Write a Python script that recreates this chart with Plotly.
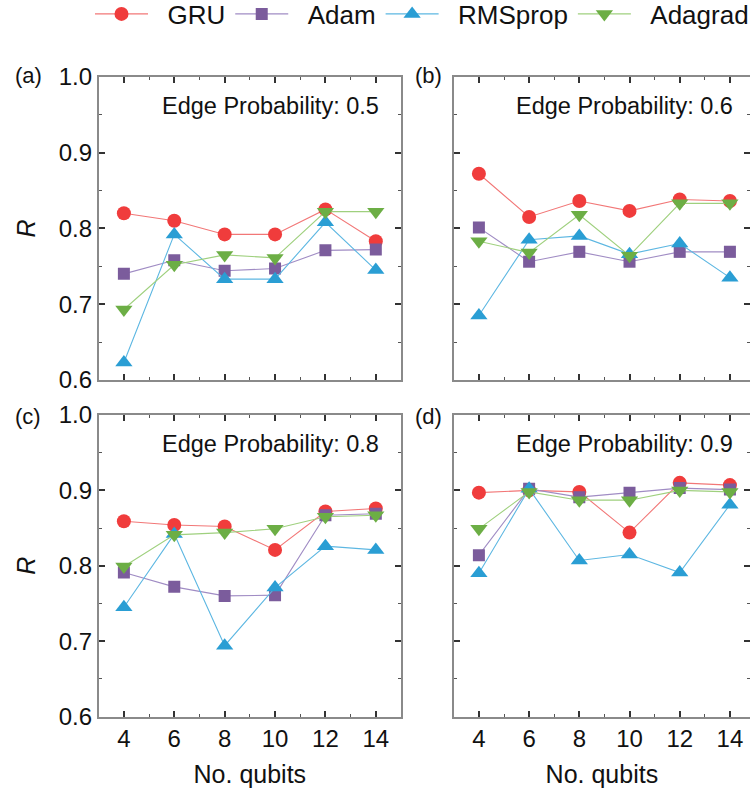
import plotly.graph_objects as go

qubits = [4, 6, 8, 10, 12, 14]
series_names = ["GRU", "Adam", "RMSprop", "Adagrad"]
edge_probs = ["0.5", "0.6", "0.8", "0.9"]
panel_labels = ["(a)", "(b)", "(c)", "(d)"]

# panel (a) edge probability 0.5
gru_a = [0.820, 0.810, 0.792, 0.792, 0.825, 0.783]
adam_a = [0.740, 0.758, 0.744, 0.747, 0.771, 0.772]
rms_a = [0.623, 0.792, 0.733, 0.733, 0.808, 0.745]
adagrad_a = [0.693, 0.752, 0.765, 0.761, 0.822, 0.822]
# panel (b) edge probability 0.6
gru_b = [0.872, 0.815, 0.836, 0.823, 0.838, 0.836]
adam_b = [0.801, 0.756, 0.769, 0.756, 0.769, 0.769]
rms_b = [0.685, 0.785, 0.790, 0.766, 0.780, 0.735]
adagrad_b = [0.783, 0.768, 0.818, 0.764, 0.833, 0.833]
# panel (c) edge probability 0.8
gru_c = [0.859, 0.854, 0.852, 0.821, 0.872, 0.876]
adam_c = [0.791, 0.772, 0.760, 0.761, 0.867, 0.869]
rms_c = [0.745, 0.842, 0.694, 0.771, 0.826, 0.821]
adagrad_c = [0.799, 0.841, 0.844, 0.849, 0.865, 0.867]
# panel (d) edge probability 0.9
gru_d = [0.897, 0.900, 0.898, 0.844, 0.910, 0.907]
adam_d = [0.814, 0.902, 0.891, 0.897, 0.903, 0.901]
rms_d = [0.790, 0.902, 0.807, 0.815, 0.791, 0.881]
adagrad_d = [0.849, 0.898, 0.887, 0.887, 0.900, 0.898]

panels = [
    [gru_a, adam_a, rms_a, adagrad_a],
    [gru_b, adam_b, rms_b, adagrad_b],
    [gru_c, adam_c, rms_c, adagrad_c],
    [gru_d, adam_d, rms_d, adagrad_d],
]

marker_colors = ["#F03C3C", "#7B5C9C", "#2A9ED4", "#6CAE45"]
line_colors = ["#F27777", "#A08CC4", "#5DB7E2", "#9FD07E"]
symbols = ["circle", "square", "triangle-up", "triangle-down"]
sizes = [14, 12, 15, 15]

W, H = 750, 790
xdoms = [[98.7 / W, 401.0 / W], [453.8 / W, 1.0]]
ydoms = [[1 - 380.0 / H, 1 - 76.7 / H], [1 - 716.5 / H, 1 - 415.0 / H]]
xranges = [[3, 15], [3, 14.8]]

fig = go.Figure()
FONT = "Liberation Sans, Arial, sans-serif"
NB = "\u00a0"

for p in range(4):
    r, c = divmod(p, 2)
    ax = "" if p == 0 else str(p + 1)
    for s in range(4):
        fig.add_trace(go.Scatter(
            x=qubits, y=panels[p][s], mode="lines+markers",
            name=NB * 2 + series_names[s], showlegend=(p == 0),
            line=dict(color=line_colors[s], width=1.1),
            marker=dict(color=marker_colors[s], symbol=symbols[s], size=sizes[s],
                        line=dict(width=0)),
            xaxis="x" + ax, yaxis="y" + ax,
        ))
    xa = dict(
        domain=xdoms[c], range=xranges[c], anchor="y" + ax,
        tickvals=qubits, ticks="inside", ticklen=6, tickwidth=1.5, tickcolor="#333",
        showline=True, linecolor="#8a8a8a", linewidth=1.8, mirror="allticks",
        showgrid=False, zeroline=False, showticklabels=(r == 1),
        tickfont=dict(size=24, color="#111", family=FONT),
        minor=dict(tickvals=[5, 7, 9, 11, 13], ticks="inside", ticklen=3,
                   tickwidth=1.2, tickcolor="#555", showgrid=False),
    )
    if r == 1:
        xa["title"] = dict(text="No. qubits", font=dict(size=25, color="#111", family=FONT),
                           standoff=14)
    ya = dict(
        domain=ydoms[r], range=[0.6, 1.0], anchor="x" + ax,
        tickvals=[0.6, 0.7, 0.8, 0.9, 1.0], ticktext=["0.6", "0.7", "0.8", "0.9", "1.0"],
        ticks="inside", ticklen=6, tickwidth=1.5, tickcolor="#333",
        showline=True, linecolor="#8a8a8a", linewidth=1.8, mirror="allticks",
        showgrid=False, zeroline=False, showticklabels=(c == 0),
        tickfont=dict(size=24, color="#111", family=FONT),
        minor=dict(tickvals=[0.65, 0.75, 0.85, 0.95], ticks="inside", ticklen=3,
                   tickwidth=1.2, tickcolor="#555", showgrid=False),
    )
    if c == 0:
        ya["title"] = dict(text="<i>R</i>", font=dict(size=25, color="#111", family=FONT),
                           standoff=16)
    fig.layout["xaxis" + ax] = xa
    fig.layout["yaxis" + ax] = ya
    fig.add_annotation(
        x=14.2, y=0.962, xref="x" + ax, yref="y" + ax, xanchor="right", yanchor="middle",
        text="Edge Probability: " + edge_probs[p], showarrow=False,
        font=dict(size=23.5, color="#111", family=FONT),
    )
    lx = [28 / W, 428 / W][c]
    ly = [1 - 76 / H, 1 - 416 / H][r]
    fig.add_annotation(
        x=lx, y=ly, xref="paper", yref="paper", xanchor="center", yanchor="middle",
        text=panel_labels[p], showarrow=False,
        font=dict(size=22, color="#111", family=FONT),
    )

fig.update_layout(
    width=W, height=H, margin=dict(l=0, r=0, t=0, b=0, autoexpand=False),
    plot_bgcolor="white", paper_bgcolor="white",
    legend=dict(orientation="h", x=90 / W, xanchor="left", y=1.012, yanchor="top",
                font=dict(size=26, color="#111", family=FONT),
                itemwidth=53, tracegroupgap=0, bgcolor="rgba(0,0,0,0)"),
)

fig.write_html("out.html")
